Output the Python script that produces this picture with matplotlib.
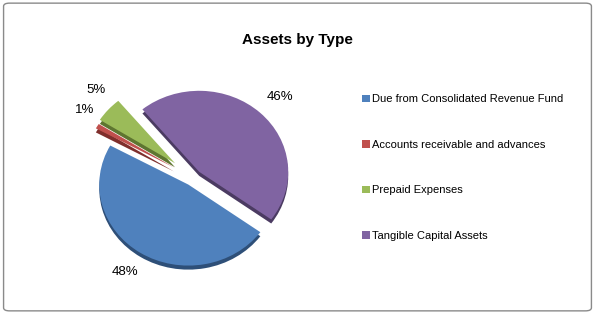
import matplotlib
matplotlib.use("Agg")
import matplotlib.pyplot as plt
from matplotlib.patches import FancyBboxPatch, Patch

categories = ["Due from Consolidated Revenue Fund", "Accounts receivable and advances",
              "Prepaid Expenses", "Tangible Capital Assets"]
values = [48, 1, 5, 46]
colors = ["#4F81BD", "#C0504D", "#9BBB59", "#8064A2"]
side_colors = ["#2E4F78", "#7F2F2C", "#5E7530", "#4B3B62"]
explode = [0.1, 0.25, 0.27, 0.1]
label_scale = [1.0, 0.88, 0.9, 1.0]
label_dy = [0.04, 0.12, 0.12, -0.04]

plt.rcParams['font.family'] = ['Liberation Sans', 'DejaVu Sans']

fig = plt.figure(figsize=(5.95, 3.14), dpi=100)
fig.patches.append(FancyBboxPatch((0.006, 0.01), 0.988, 0.98, boxstyle="round,pad=0,rounding_size=0.01",
                                  transform=fig.transFigure, facecolor='white', edgecolor='#8a8a8a',
                                  linewidth=1.0, zorder=-10))

ax = fig.add_axes([0.1, 0.047, 0.449, 0.774])
# side (thickness) of the 3D pie
ax.pie(values, colors=side_colors, explode=explode, startangle=-36, counterclock=False,
       center=(0, -0.05), wedgeprops=dict(linewidth=0))
wedges, texts, autotexts = ax.pie(values, colors=colors, explode=explode, startangle=-36,
                                  counterclock=False, autopct='%1.0f%%', pctdistance=1.32,
                                  wedgeprops=dict(linewidth=0),
                                  textprops=dict(fontsize=9.5, color='black'))
for w, t, k, dy in zip(wedges, autotexts, label_scale, label_dy):
    cx, cy = w.center
    x, y = t.get_position()
    t.set_position((cx + (x - cx) * k, cy + (y - cy) * k + dy))

ax.set_aspect('auto')
ax.set_xlim(-1.5, 1.5)
ax.set_ylim(-1.5, 1.5)
ax.axis('off')

fig.text(0.5, 0.873, "Assets by Type", ha='center', va='center', fontsize=11, fontweight='bold')

handles = [Patch(facecolor=c, edgecolor='none') for c in colors]
fig.legend(handles, categories, loc='center left', bbox_to_anchor=(0.608, 0.466), frameon=False,
           fontsize=8, labelspacing=3.2, handlelength=0.7, handleheight=0.7, handletextpad=0.25,
           borderpad=0, borderaxespad=0)

fig.savefig("out.png", dpi=100)
